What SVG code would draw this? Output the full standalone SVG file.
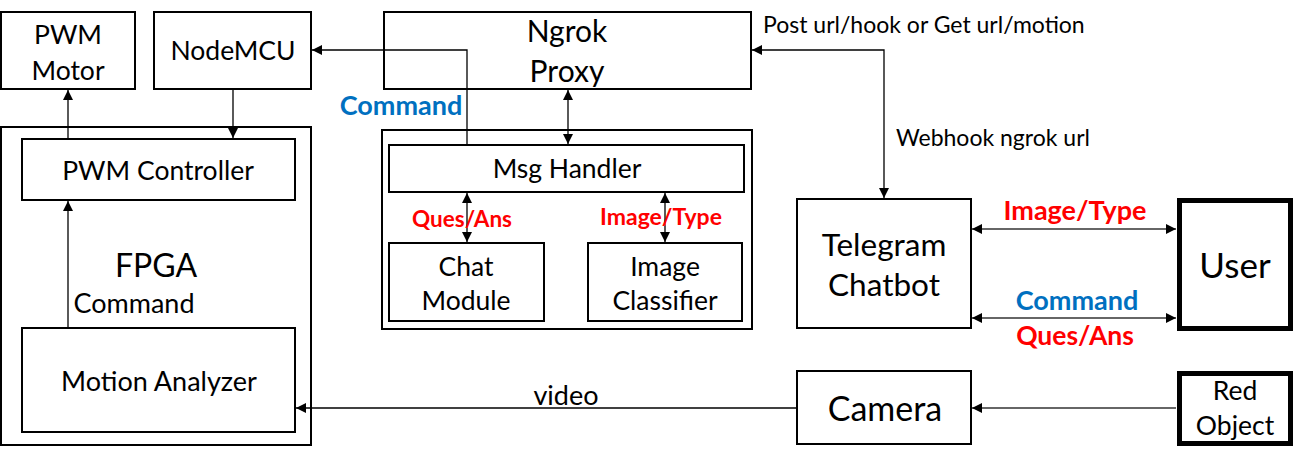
<svg xmlns="http://www.w3.org/2000/svg" width="1294" height="460" viewBox="0 0 1294 460">
<style>
text{font-family:Lato,"Liberation Sans",sans-serif;fill:#000;text-anchor:middle}
.box{fill:#fff;stroke:#000;stroke-width:2}
.thick{fill:#fff;stroke:#000;stroke-width:5}
.c{fill:none;stroke:#000;stroke-width:1.3}
.g{fill:none;stroke:#333;stroke-width:1.3}
.n{font-size:26.5px}
.red{fill:#ff0000;font-weight:bold}
.blue{fill:#0070c0;font-weight:bold}
</style>
<defs>
<marker id="a" viewBox="0 0 10 10" refX="10" refY="5" markerWidth="10" markerHeight="10" markerUnits="userSpaceOnUse" orient="auto-start-reverse"><path d="M0,0L10,5L0,10z" fill="#000"/></marker>
</defs>
<rect width="1294" height="460" fill="#fff"/>
<g id="fpga"><rect class="box" x="1" y="127" width="310" height="318"/><text x="156" y="277" font-size="32">FPGA</text></g>
<g id="pwm-motor"><rect class="box" x="1" y="12" width="134" height="77"/><text class="n" x="68" y="44">PWM</text><text class="n" x="68" y="80">Motor</text></g>
<g id="nodemcu"><rect class="box" x="154" y="12" width="157" height="77"/><text class="n" x="233" y="60">NodeMCU</text></g>
<g id="pwm-controller"><rect class="box" x="22" y="139" width="273" height="61"/><text class="n" x="158" y="180">PWM Controller</text></g>
<g id="motion-analyzer"><rect class="box" x="22" y="328" width="273" height="104"/><text x="159" y="391" font-size="27">Motion Analyzer</text></g>
<g id="ngrok"><rect class="box" x="384" y="12" width="367" height="77"/><text x="567" y="42" font-size="30">Ngrok</text><text x="567" y="82" font-size="30">Proxy</text></g>
<g id="server"><rect class="box" x="382" y="130" width="370" height="199"/></g>
<g id="msg-handler"><rect class="box" x="389" y="145" width="355" height="47"/><text class="n" x="567" y="178">Msg Handler</text></g>
<g id="chat-module"><rect class="box" x="389" y="243" width="155" height="78"/><text class="n" x="466" y="276">Chat</text><text class="n" x="466" y="310">Module</text></g>
<g id="image-classifier"><rect class="box" x="588" y="243" width="154" height="78"/><text class="n" x="665" y="276">Image</text><text class="n" x="665" y="310">Classifier</text></g>
<g id="telegram"><rect class="box" x="797" y="199" width="174" height="129"/><text x="884" y="256" font-size="31.5">Telegram</text><text x="884" y="296" font-size="31.5">Chatbot</text></g>
<g id="user"><rect class="thick" x="1179.5" y="200.5" width="111" height="128"/><text x="1235" y="278" font-size="35">User</text></g>
<g id="camera"><rect class="box" x="797" y="371" width="174" height="73"/><text x="885" y="421" font-size="34">Camera</text></g>
<g id="red-object"><rect class="thick" x="1179.5" y="373.5" width="111" height="70"/><text class="n" x="1235" y="400">Red</text><text class="n" x="1235" y="435">Object</text></g>
<g id="connectors">
<path class="c" d="M68,139V90" marker-end="url(#a)"/>
<path class="c" d="M233,89V138" marker-end="url(#a)"/>
<path class="c" d="M68,328V201" marker-end="url(#a)"/>
<path class="c" d="M467,145V50H312" marker-end="url(#a)"/>
<path class="c" d="M568,90V144" marker-start="url(#a)" marker-end="url(#a)"/>
<path class="c" d="M467,193V242" marker-start="url(#a)" marker-end="url(#a)"/>
<path class="c" d="M665,193V242" marker-start="url(#a)" marker-end="url(#a)"/>
<path class="c" d="M752,50H884V198" marker-start="url(#a)" marker-end="url(#a)"/>
<path class="g" d="M972,229H1176" marker-start="url(#a)" marker-end="url(#a)"/>
<path class="g" d="M972,318H1176" marker-start="url(#a)" marker-end="url(#a)"/>
<path class="g" d="M1176,408H972" marker-end="url(#a)"/>
<path class="c" d="M797,408H296" marker-end="url(#a)"/>
</g>
<g id="labels">
<text x="134" y="313" font-size="27">Command</text>
<text class="blue" x="401" y="115" font-size="27">Command</text>
<text class="red" x="462" y="227" font-size="22.5">Ques/Ans</text>
<text class="red" x="661" y="225" font-size="23">Image/Type</text>
<text x="763" y="33" font-size="23" style="text-anchor:start">Post url/hook or Get url/motion</text>
<text x="896" y="146" font-size="23" style="text-anchor:start">Webhook ngrok url</text>
<text class="red" x="1075" y="220" font-size="27">Image/Type</text>
<text class="blue" x="1077" y="310" font-size="27">Command</text>
<text class="red" x="1075" y="345" font-size="26.5">Ques/Ans</text>
<text x="566" y="405" font-size="27">video</text>
</g>
</svg>
